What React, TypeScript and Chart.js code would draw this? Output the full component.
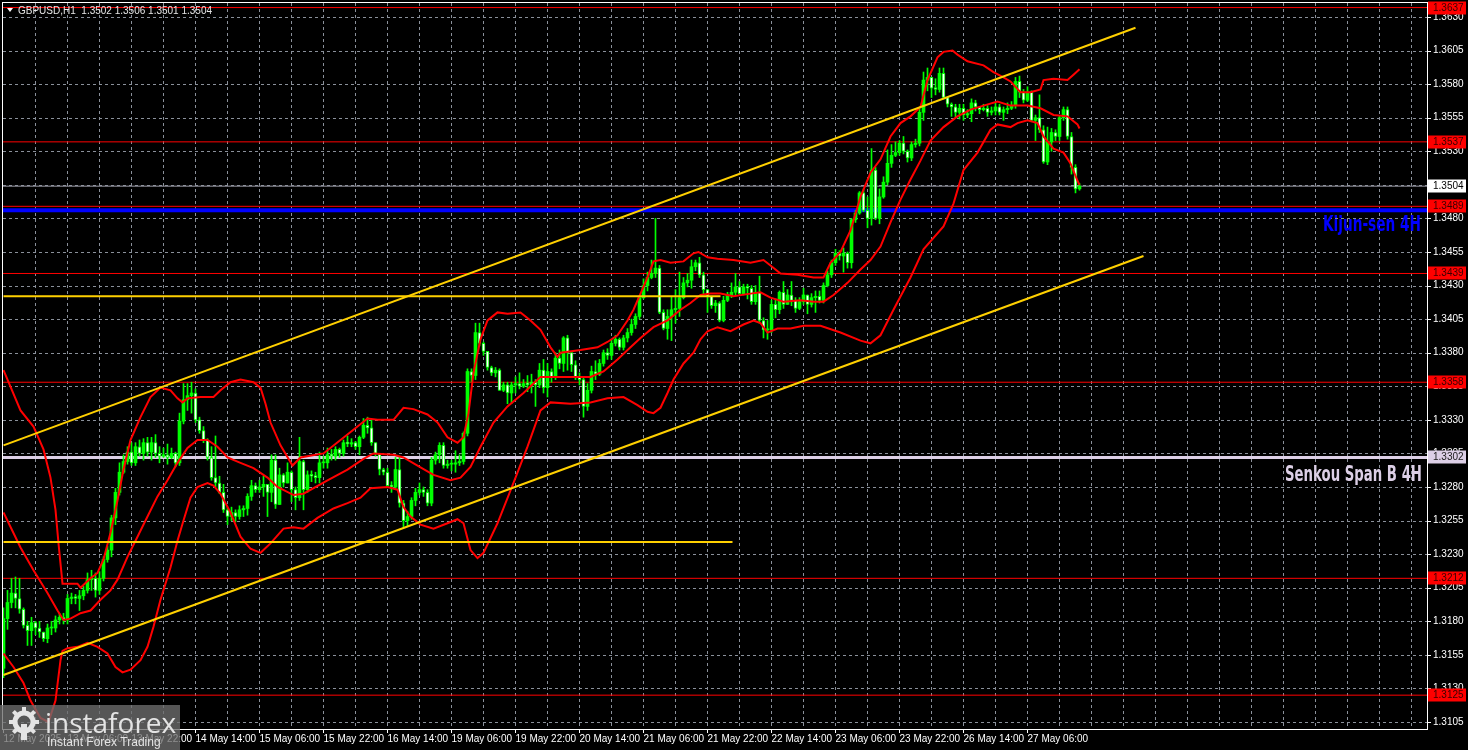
import { useEffect, useRef } from 'react';
import { Chart, registerables } from 'chart.js';

Chart.register(...registerables);

// ---------- data ----------
const FIRST_OPEN = 1.3145;

const closes = [
  1.3182,1.3194,1.3201,1.3197,1.3189,1.3177,1.3173,1.3179,1.3175,1.3172,
  1.3167,1.3175,1.3175,1.3181,1.3183,1.3181,1.3197,1.3198,1.3197,1.3199,
  1.3203,1.3211,1.3212,1.3203,1.3212,1.3226,1.3233,1.3257,1.3276,1.3291,
  1.3299,1.3306,1.3298,1.3310,1.3305,1.3313,1.3306,1.3313,1.3305,1.3303,
  1.3304,1.3302,1.3305,1.3298,1.3329,1.3345,1.3348,1.3350,1.3330,1.3322,
  1.3315,1.3302,1.3287,1.3283,1.3276,1.3263,1.3258,1.3261,1.3258,1.3263,
  1.3264,1.3273,1.3281,1.3278,1.3280,1.3282,1.3276,1.3300,1.3267,1.3289,
  1.3283,1.3291,1.3278,1.3272,1.3299,1.3278,1.3289,1.3288,1.3287,1.3298,
  1.3298,1.3304,1.3303,1.3308,1.3305,1.3313,1.3312,1.3313,1.3310,1.3317,
  1.3326,1.3324,1.3313,1.3305,1.3293,1.3291,1.3281,1.3280,1.3293,1.3268,
  1.3255,1.3258,1.3270,1.3276,1.3278,1.3276,1.3268,1.3300,1.3304,1.3311,
  1.3296,1.3297,1.3297,1.3298,1.3299,1.3320,1.3366,1.3363,1.3395,1.3387,
  1.3381,1.3369,1.3365,1.3367,1.3352,1.3356,1.3350,1.3356,1.3357,1.3355,
  1.3357,1.3356,1.3358,1.3356,1.3367,1.3354,1.3366,1.3362,1.3376,1.3372,
  1.3391,1.3380,1.3371,1.3362,1.3360,1.3340,1.3352,1.3366,1.3364,1.3372,
  1.3380,1.3378,1.3387,1.3390,1.3384,1.3391,1.3395,1.3401,1.3407,1.3421,
  1.3430,1.3436,1.3439,1.3443,1.3410,1.3398,1.3407,1.3412,1.3413,1.3421,
  1.3432,1.3434,1.3444,1.3447,1.3438,1.3427,1.3422,1.3415,1.3417,1.3404,
  1.3419,1.3423,1.3425,1.3429,1.3424,1.3429,1.3428,1.3418,1.3425,1.3404,
  1.3397,1.3397,1.3416,1.3412,1.3425,1.3416,1.3423,1.3419,1.3413,1.3418,
  1.3423,1.3416,1.3421,1.3422,1.3419,1.3430,1.3438,1.3447,1.3454,1.3452,
  1.3454,1.3447,1.3479,1.3484,1.3499,1.3486,1.3480,1.3516,1.3480,1.3496,
  1.3507,1.3521,1.3527,1.3529,1.3536,1.3530,1.3525,1.3535,1.3536,1.3559,
  1.3583,1.3585,1.3577,1.3576,1.3588,1.3570,1.3565,1.3563,1.3559,1.3562,
  1.3557,1.3558,1.3566,1.3563,1.3561,1.3562,1.3559,1.3560,1.3563,1.3559,
  1.3561,1.3562,1.3564,1.3582,1.3574,1.3568,1.3574,1.3553,1.3555,1.3546,
  1.3522,1.3537,1.3544,1.3541,1.3555,1.3561,1.3541,1.3518,1.3502,1.3504,
];

const highs = [
  1.3190,1.3203,1.3212,1.3213,1.3212,1.3190,1.3180,1.3183,1.3180,1.3180,
  1.3172,1.3178,1.3180,1.3184,1.3186,1.3186,1.3200,1.3201,1.3200,1.3203,
  1.3206,1.3216,1.3218,1.3216,1.3217,1.3228,1.3236,1.3259,1.3279,1.3298,
  1.3304,1.3310,1.3313,1.3313,1.3315,1.3316,1.3317,1.3317,1.3319,1.3310,
  1.3309,1.3312,1.3309,1.3306,1.3335,1.3357,1.3357,1.3358,1.3353,1.3332,
  1.3325,1.3316,1.3310,1.3318,1.3288,1.3282,1.3265,1.3265,1.3263,1.3266,
  1.3266,1.3275,1.3285,1.3283,1.3285,1.3288,1.3278,1.3304,1.3304,1.3294,
  1.3290,1.3298,1.3292,1.3280,1.3317,1.3300,1.3292,1.3292,1.3291,1.3306,
  1.3303,1.3309,1.3308,1.3310,1.3309,1.3315,1.3318,1.3316,1.3314,1.3318,
  1.3331,1.3332,1.3330,1.3313,1.3304,1.3294,1.3294,1.3284,1.3302,1.3302,
  1.3270,1.3262,1.3272,1.3279,1.3283,1.3280,1.3278,1.3302,1.3306,1.3313,
  1.3313,1.3300,1.3300,1.3307,1.3304,1.3321,1.3368,1.3368,1.3402,1.3402,
  1.3388,1.3381,1.3370,1.3369,1.3368,1.3358,1.3358,1.3358,1.3362,1.3365,
  1.3360,1.3363,1.3364,1.3360,1.3372,1.3375,1.3372,1.3368,1.3380,1.3382,
  1.3392,1.3393,1.3374,1.3374,1.3365,1.3361,1.3357,1.3370,1.3374,1.3375,
  1.3382,1.3383,1.3390,1.3393,1.3391,1.3393,1.3398,1.3405,1.3409,1.3422,
  1.3435,1.3440,1.3449,1.3480,1.3445,1.3412,1.3412,1.3422,1.3427,1.3440,
  1.3436,1.3439,1.3449,1.3449,1.3451,1.3440,1.3426,1.3420,1.3419,1.3418,
  1.3422,1.3425,1.3432,1.3439,1.3433,1.3431,1.3431,1.3430,1.3430,1.3437,
  1.3406,1.3404,1.3419,1.3420,1.3426,1.3433,1.3427,1.3433,1.3421,1.3421,
  1.3428,1.3420,1.3424,1.3426,1.3426,1.3432,1.3441,1.3449,1.3457,1.3456,
  1.3458,1.3455,1.3480,1.3486,1.3500,1.3502,1.3496,1.3532,1.3518,1.3502,
  1.3511,1.3531,1.3535,1.3537,1.3538,1.3541,1.3531,1.3537,1.3539,1.3562,
  1.3589,1.3592,1.3583,1.3584,1.3592,1.3592,1.3570,1.3566,1.3565,1.3565,
  1.3565,1.3561,1.3569,1.3568,1.3563,1.3565,1.3564,1.3563,1.3566,1.3565,
  1.3563,1.3566,1.3567,1.3585,1.3586,1.3576,1.3578,1.3575,1.3557,1.3572,
  1.3549,1.3548,1.3547,1.3546,1.3556,1.3563,1.3563,1.3544,1.3520,1.3506,
];

const lows = [
  1.3138,1.3174,1.3190,1.3190,1.3186,1.3175,1.3162,1.3162,1.3170,1.3168,
  1.3165,1.3164,1.3170,1.3172,1.3178,1.3178,1.3178,1.3193,1.3193,1.3188,
  1.3196,1.3201,1.3203,1.3198,1.3200,1.3210,1.3224,1.3228,1.3252,1.3274,
  1.3290,1.3297,1.3296,1.3296,1.3303,1.3300,1.3303,1.3300,1.3302,1.3298,
  1.3302,1.3297,1.3301,1.3295,1.3296,1.3327,1.3337,1.3335,1.3328,1.3320,
  1.3313,1.3300,1.3285,1.3280,1.3275,1.3261,1.3252,1.3255,1.3254,1.3256,
  1.3258,1.3259,1.3270,1.3276,1.3276,1.3273,1.3258,1.3269,1.3264,1.3278,
  1.3280,1.3283,1.3269,1.3263,1.3270,1.3263,1.3276,1.3284,1.3283,1.3283,
  1.3294,1.3294,1.3300,1.3300,1.3302,1.3303,1.3310,1.3310,1.3308,1.3304,
  1.3316,1.3320,1.3311,1.3303,1.3289,1.3289,1.3280,1.3276,1.3279,1.3265,
  1.3250,1.3251,1.3256,1.3266,1.3274,1.3273,1.3266,1.3266,1.3297,1.3298,
  1.3294,1.3294,1.3292,1.3291,1.3296,1.3297,1.3318,1.3358,1.3360,1.3385,
  1.3378,1.3367,1.3363,1.3362,1.3352,1.3351,1.3342,1.3342,1.3350,1.3353,
  1.3354,1.3351,1.3350,1.3340,1.3354,1.3350,1.3347,1.3358,1.3360,1.3368,
  1.3366,1.3367,1.3366,1.3360,1.3356,1.3332,1.3337,1.3350,1.3360,1.3363,
  1.3370,1.3375,1.3375,1.3385,1.3382,1.3382,1.3388,1.3393,1.3398,1.3405,
  1.3420,1.3426,1.3435,1.3436,1.3409,1.3397,1.3390,1.3389,1.3402,1.3407,
  1.3420,1.3429,1.3428,1.3441,1.3436,1.3424,1.3410,1.3413,1.3410,1.3403,
  1.3403,1.3418,1.3421,1.3423,1.3423,1.3423,1.3420,1.3416,1.3416,1.3402,
  1.3391,1.3390,1.3395,1.3406,1.3409,1.3413,1.3416,1.3415,1.3410,1.3412,
  1.3416,1.3409,1.3414,1.3410,1.3417,1.3417,1.3429,1.3436,1.3445,1.3449,
  1.3440,1.3443,1.3443,1.3477,1.3483,1.3485,1.3473,1.3475,1.3479,1.3476,
  1.3495,1.3505,1.3518,1.3526,1.3527,1.3528,1.3522,1.3523,1.3533,1.3534,
  1.3553,1.3575,1.3570,1.3572,1.3574,1.3569,1.3563,1.3556,1.3555,1.3554,
  1.3553,1.3555,1.3552,1.3560,1.3558,1.3560,1.3556,1.3557,1.3557,1.3557,
  1.3553,1.3558,1.3561,1.3562,1.3570,1.3566,1.3567,1.3552,1.3538,1.3544,
  1.3521,1.3520,1.3530,1.3538,1.3538,1.3553,1.3539,1.3513,1.3499,1.3501,
];

// Bollinger-style red band lines: [bar index, price]
const bandUpper = [
  [0,1.3367],[4.25,1.3337],[7.5,1.3325],[10,1.3308],[11.75,1.3287],[13,1.3263],[13.75,1.3238],[14.75,1.3208],
  [18.5,1.3208],[19.25,1.3205],[21.75,1.3212],[23.5,1.3216],[25,1.3226],[26.75,1.3246],[28.5,1.3270],[30,1.3293],
  [31.75,1.3315],[34.25,1.3332],[36.75,1.3347],[39.25,1.3354],[41.75,1.3352],[43.5,1.3346],[44.75,1.3343],[46,1.3346],
  [49.25,1.3347],[52.5,1.3347],[54.25,1.3352],[56.75,1.3358],[59.25,1.3360],[62.5,1.3358],[64.25,1.3354],[65.5,1.3342],
  [66.75,1.3328],[69.25,1.3311],[72.25,1.3296],[74.25,1.3302],[80,1.3305],[84.25,1.3315],[88.5,1.3325],[91,1.3331],
  [93.5,1.3330],[97.5,1.3330],[100,1.3339],[102.5,1.3338],[106,1.3334],[108.5,1.3328],[111,1.3317],[113.5,1.3313],
  [115,1.3317],[116.25,1.3335],[117.5,1.3365],[119.25,1.3390],[121,1.3404],[123.5,1.3410],[126,1.3409],[129.25,1.3410],
  [131.75,1.3404],[134.25,1.3397],[136.75,1.3384],[138.5,1.3377],[139.25,1.3380],[144.25,1.3382],[148.5,1.3384],[151,1.3388],
  [153.5,1.3393],[156,1.3404],[157.5,1.3412],[159.25,1.3424],[161,1.3436],[162.5,1.3448],[164.25,1.3449],[166.75,1.3447],
  [170,1.3448],[172.5,1.3454],[173.75,1.3455],[176,1.3451],[178.5,1.3450],[182.5,1.3449],[186.75,1.3447],[190,1.3449],
  [191.75,1.3445],[194.25,1.3439],[198.5,1.3438],[202.5,1.3436],[205,1.3436],[206.75,1.3447],[209.25,1.3455],[211.75,1.3471],
  [214.25,1.3496],[216.75,1.3514],[219.25,1.3524],[221.75,1.3541],[224.25,1.3551],[226.75,1.3556],[229.25,1.3563],[231,1.3583],
  [233.5,1.3600],[235,1.3604],[237.25,1.3605],[238.5,1.3602],[241,1.3597],[245,1.3594],[247.5,1.3589],[250,1.3585],
  [251.75,1.3582],[254.25,1.3574],[256.75,1.3574],[259.25,1.3576],[260,1.3583],[262.5,1.3584],[266,1.3583],[267.5,1.3587],[269,1.3591],
];

const bandMiddle = [
  [0,1.3261],[4.25,1.3235],[7.5,1.3218],[11,1.3201],[13.5,1.3188],[15,1.3181],[16.75,1.3182],[19.25,1.3186],
  [21.75,1.3188],[24.25,1.3196],[26.75,1.3203],[28.5,1.3211],[31,1.3228],[33.5,1.3243],[36,1.3258],[38.5,1.3273],
  [41,1.3285],[43.5,1.3298],[46,1.3309],[48.5,1.3315],[51,1.3315],[53.5,1.3310],[56,1.3302],[59.25,1.3298],
  [62.5,1.3294],[66,1.3287],[68.5,1.3280],[72.5,1.3274],[75,1.3275],[81,1.3285],[86,1.3293],[90,1.3301],
  [92.5,1.3305],[97.5,1.3304],[100,1.3302],[103.5,1.3296],[107.5,1.3289],[111.75,1.3285],[114.25,1.3287],[116.75,1.3295],
  [119.25,1.3310],[122.5,1.3328],[126,1.3340],[130,1.3350],[134.25,1.3362],[137.5,1.3362],[141.75,1.3362],[146.75,1.3362],
  [150,1.3366],[153.5,1.3375],[156.75,1.3384],[159.25,1.3391],[162.5,1.3399],[166,1.3404],[169.25,1.3412],[171.75,1.3417],
  [174.25,1.3423],[176.75,1.3424],[179.25,1.3424],[182.5,1.3422],[186.75,1.3424],[189.25,1.3425],[191.75,1.3421],[195,1.3418],
  [199.25,1.3419],[202.5,1.3418],[205,1.3418],[207.5,1.3423],[211,1.3432],[214.25,1.3442],[216.75,1.3449],[219.25,1.3459],
  [221.75,1.3477],[224.25,1.3494],[226.75,1.3509],[229.25,1.3523],[231.75,1.3538],[235,1.3548],[238.5,1.3556],[241.75,1.3561],
  [245,1.3564],[248.5,1.3567],[251.75,1.3564],[256,1.3564],[259.25,1.3562],[262.5,1.3557],[266,1.3556],[268.5,1.3550],[269,1.3547],
];

const bandLower = [
  [0,1.3156],[2.5,1.3146],[5,1.3134],[6.75,1.3121],[9.25,1.3108],[11.25,1.3105],[13,1.3121],[14.25,1.3151],
  [14.75,1.3158],[16,1.3160],[18.5,1.3161],[21,1.3164],[23.5,1.3161],[26,1.3156],[28,1.3146],[29.75,1.3142],
  [31.75,1.3144],[34.25,1.3151],[36,1.3161],[37.5,1.3176],[39.25,1.3196],[41.75,1.3220],[43.5,1.3240],[45,1.3255],
  [46.75,1.3272],[48.5,1.3280],[51,1.3283],[52.5,1.3281],[54.25,1.3275],[56.75,1.3261],[59.25,1.3243],[61.75,1.3234],
  [64.25,1.3231],[66.75,1.3238],[70,1.3249],[72.5,1.3250],[75,1.3249],[78.5,1.3257],[82.5,1.3264],[86,1.3268],
  [89.25,1.3272],[91.75,1.3279],[96,1.3280],[98.5,1.3278],[100,1.3265],[101.75,1.3258],[104.25,1.3252],[107.5,1.3249],
  [111,1.3253],[113.5,1.3256],[115,1.3253],[116.75,1.3233],[118.5,1.3227],[120,1.3231],[123.5,1.3253],[127.5,1.3283],
  [131,1.3310],[134.25,1.3337],[136.75,1.3343],[141.75,1.3342],[146.75,1.3343],[151,1.3346],[155,1.3347],[158.5,1.3341],
  [161,1.3336],[162.5,1.3335],[164.25,1.3339],[166,1.3350],[167.5,1.3360],[170,1.3372],[172.5,1.3380],[174.25,1.3390],
  [176,1.3396],[178.5,1.3399],[181.75,1.3396],[185,1.3401],[187.5,1.3404],[189.25,1.3402],[191,1.3395],[193.5,1.3398],
  [196.75,1.3398],[200,1.3400],[204.25,1.3400],[209.25,1.3395],[214.25,1.3389],[216.75,1.3387],[219.25,1.3393],[222.5,1.3412],
  [226.75,1.3436],[230,1.3457],[235,1.3474],[237.5,1.3491],[240,1.3516],[243.5,1.3529],[246.75,1.3546],[248.5,1.3550],
  [251.75,1.3548],[253.5,1.3551],[256,1.3553],[258.5,1.3551],[260,1.3541],[262.5,1.3532],[265,1.3529],[266.75,1.3521],
  [268.5,1.3508],[269,1.3505],
];

// horizontal levels
const redLevels = [1.3637, 1.3537, 1.3489, 1.3439, 1.3358, 1.3212, 1.3125];
const kijunLevel = 1.3486;
const kijunTag = 1.3489;
const senkouBLevel = 1.3302;
const bidLevel = 1.3504;

// yellow channel and yellow segments: [bar index, price]
const channelUpper = [[0, 1.3311], [283, 1.3622]];
const channelLower = [[0, 1.3140], [285, 1.3452]];
const yellowUpperSeg = [[0, 1.3422], [179.25, 1.3422]];
const yellowLowerSeg = [[0, 1.3239], [182.25, 1.3239]];

// axis ticks
const yTicks = [1.3105,1.3130,1.3155,1.3180,1.3205,1.3230,1.3255,1.3280,1.3305,1.3330,1.3355,1.3380,1.3405,1.3430,1.3455,1.3480,1.3505,1.3530,1.3555,1.3580,1.3605,1.3630];
const timeLabels = ['12 May 2025','13 May 06:00','13 May 22:00','14 May 14:00','15 May 06:00','15 May 22:00','16 May 14:00','19 May 06:00','19 May 22:00','20 May 14:00','21 May 06:00','21 May 22:00','22 May 14:00','23 May 06:00','23 May 22:00','26 May 14:00','27 May 06:00'];
const LABEL_STEP = 16;
const GRID_STEP = 8;
const titleText = 'GBPUSD,H1  1.3502 1.3506 1.3501 1.3504';

// ---------- layout constants ----------
const W = 1468;
const H = 750;
const X_MIN = -0.125;
const X_MAX = 355.875;
const Y_MIN = 1.30998;
const Y_MAX = 1.36404;
const FONT = '"Liberation Sans", Arial, sans-serif';
const NARROW = '"Liberation Sans Narrow", "Arial Narrow", "DejaVu Sans Condensed", sans-serif';
const GRID = '#8a909a';
const LIME = '#00ff00';

const toPts = (arr: number[][]) => arr.map(([x, y]) => ({ x, y }));

export default function App() {
  const ref = useRef<HTMLCanvasElement | null>(null);

  useEffect(() => {
    document.body.style.margin = '0';
    document.body.style.background = '#000';
    const canvas = ref.current;
    if (!canvas) return;

    const wicks: any[] = [];
    const bulls: any[] = [];
    const bears: any[] = [];
    for (let i = 0; i < closes.length; i++) {
      const o = i === 0 ? FIRST_OPEN : closes[i - 1];
      const c = closes[i];
      const hi = Math.max(highs[i], o, c);
      const lo = Math.min(lows[i], o, c);
      wicks.push({ x: i, y: [lo, hi] });
      if (c >= o) bulls.push({ x: i, y: [o, c] });
      else bears.push({ x: i, y: [c, o] });
    }

    const line = (pts: number[][], color: string, width: number, order: number) => ({
      type: 'line' as const,
      data: toPts(pts),
      borderColor: color,
      borderWidth: width,
      pointRadius: 0,
      pointHoverRadius: 0,
      fill: false,
      tension: 0,
      order,
    });

    const datasets: any[] = [];
    redLevels.forEach((v) => datasets.push(line([[X_MIN, v], [X_MAX, v]], '#ff0000', 1, 20)));
    datasets.push(line([[X_MIN, bidLevel], [X_MAX, bidLevel]], '#9a9aa6', 1, 21));
    datasets.push(line([[X_MIN, kijunLevel], [X_MAX, kijunLevel]], '#0000ff', 4, 22));
    datasets.push(line([[X_MIN, senkouBLevel], [X_MAX, senkouBLevel]], '#dccfe6', 3, 21));
    datasets.push({
      type: 'bar', data: wicks, backgroundColor: LIME, borderWidth: 0, barThickness: 1,
      grouped: false, order: 12, minBarLength: 1,
    });
    datasets.push({
      type: 'bar', data: bulls, backgroundColor: LIME, borderWidth: 0, barThickness: 3,
      grouped: false, order: 11, minBarLength: 1,
    });
    datasets.push({
      type: 'bar', data: bears, backgroundColor: '#ffffff', borderColor: LIME, borderWidth: 1,
      borderSkipped: false, barThickness: 3, grouped: false, order: 10, minBarLength: 2,
    });
    datasets.push(line(bandUpper, '#ff0000', 2, 5));
    datasets.push(line(bandMiddle, '#ff0000', 2, 5));
    datasets.push(line(bandLower, '#ff0000', 2, 5));
    datasets.push(line(channelUpper, '#ffd000', 2, 3));
    datasets.push(line(channelLower, '#ffd000', 2, 3));
    datasets.push(line(yellowUpperSeg, '#ffd000', 2, 3));
    datasets.push(line(yellowLowerSeg, '#ffd000', 2, 3));

    const fitText = (c: CanvasRenderingContext2D, text: string, right: number, y: number, width: number) => {
      const w = c.measureText(text).width;
      c.save();
      c.translate(right, y);
      c.scale(width / w, 1);
      c.textAlign = 'right';
      c.fillText(text, 0, 0);
      c.restore();
    };

    const decor = {
      id: 'mt4decor',
      beforeDraw(chart: any) {
        const c = chart.ctx;
        c.save();
        c.fillStyle = '#000';
        c.fillRect(0, 0, chart.width, chart.height);
        c.restore();
      },
      beforeDatasetsDraw(chart: any) {
        const c = chart.ctx;
        const a = chart.chartArea;
        const xs = chart.scales.x;
        const ys = chart.scales.y;
        c.save();
        c.beginPath();
        c.rect(a.left, a.top, a.right - a.left, a.bottom - a.top);
        c.clip();
        c.strokeStyle = GRID;
        c.lineWidth = 1;
        c.setLineDash([3, 3]);
        c.beginPath();
        for (let i = GRID_STEP; i < X_MAX; i += GRID_STEP) {
          const px = Math.floor(xs.getPixelForValue(i)) + 0.5;
          c.moveTo(px, a.top);
          c.lineTo(px, a.bottom);
        }
        yTicks.forEach((v) => {
          const py = Math.round(ys.getPixelForValue(v)) + 0.5;
          c.moveTo(a.left, py);
          c.lineTo(a.right, py);
        });
        c.stroke();
        c.restore();
      },
      afterDraw(chart: any) {
        const c = chart.ctx;
        const a = chart.chartArea;
        const xs = chart.scales.x;
        const ys = chart.scales.y;
        c.save();
        // frame
        c.strokeStyle = '#ffffff';
        c.lineWidth = 1;
        c.strokeRect(2.5, 2.5, a.right - 2, a.bottom - 2);
        // tick marks
        c.beginPath();
        timeLabels.forEach((_, k) => {
          const px = Math.floor(xs.getPixelForValue(k * LABEL_STEP)) + 0.5;
          c.moveTo(px, a.bottom);
          c.lineTo(px, a.bottom + 4);
        });
        yTicks.forEach((v) => {
          const py = Math.round(ys.getPixelForValue(v)) + 0.5;
          c.moveTo(a.right, py);
          c.lineTo(a.right + 4, py);
        });
        c.stroke();

        // price tags
        const tag = (v: number, bg: string, fg: string) => {
          const py = ys.getPixelForValue(v);
          c.fillStyle = bg;
          c.fillRect(a.right + 1, Math.round(py) - 6.5, 38, 13);
          c.fillStyle = fg;
          c.font = `10px ${FONT}`;
          c.textAlign = 'left';
          c.textBaseline = 'middle';
          c.fillText(v.toFixed(4), a.right + 6, Math.round(py) + 0.5);
        };
        redLevels.forEach((v) => { if (v !== kijunTag) tag(v, '#ff0000', '#3a0000'); });
        tag(bidLevel, '#ffffff', '#000000');
        tag(kijunTag, '#ff0000', '#3a0000');
        tag(senkouBLevel, '#dccfe6', '#202020');

        // title
        c.fillStyle = '#ffffff';
        c.beginPath();
        c.moveTo(7, 8);
        c.lineTo(13, 8);
        c.lineTo(10, 12);
        c.closePath();
        c.fill();
        c.fillStyle = '#e6e6e6';
        c.font = `10px ${FONT}`;
        c.textAlign = 'left';
        c.textBaseline = 'middle';
        c.fillText(titleText, 18, 11);

        // object labels (condensed bold)
        c.font = `bold 21px ${NARROW}`;
        c.textBaseline = 'middle';
        c.fillStyle = '#0000ff';
        fitText(c, 'Kijun-sen 4H', 1421, 226, 98);
        c.fillStyle = '#dccfe6';
        fitText(c, 'Senkou Span B 4H', 1422, 476, 137);

        // watermark
        c.fillStyle = 'rgba(110,110,110,0.78)';
        c.fillRect(0, 705, 180, 45);
        c.strokeStyle = '#e4e4e4';
        c.lineWidth = 5;
        c.beginPath();
        c.arc(24, 722, 9, 0, Math.PI * 2);
        c.stroke();
        c.lineWidth = 4;
        for (let k = 0; k < 8; k++) {
          const ang = (k * Math.PI) / 4;
          c.beginPath();
          c.moveTo(24 + Math.cos(ang) * 10, 722 + Math.sin(ang) * 10);
          c.lineTo(24 + Math.cos(ang) * 15, 722 + Math.sin(ang) * 15);
          c.stroke();
        }
        c.fillStyle = '#e4e4e4';
        c.fillRect(21, 724, 6, 16);
        c.textAlign = 'left';
        c.textBaseline = 'alphabetic';
        c.font = `32px ${'"Open Sans", Lato, sans-serif'}`;
        const m = c.measureText('instaforex').width;
        const fs = Math.max(10, Math.round(32 * 130 / m));
        c.font = `${fs}px ${'"Open Sans", Lato, sans-serif'}`;
        c.fillText('instaforex', 45, 733);
        c.font = `12px ${FONT}`;
        c.fillText('Instant Forex Trading', 47, 746);
        c.restore();
      },
    };

    const chart = new Chart(canvas, {
      type: 'bar',
      data: { datasets },
      options: {
        animation: false,
        responsive: false,
        maintainAspectRatio: false,
        devicePixelRatio: 1,
        events: [],
        layout: { padding: { left: 3, top: 3, right: 0, bottom: 0 } },
        plugins: { legend: { display: false }, tooltip: { enabled: false } },
        scales: {
          x: {
            type: 'linear',
            min: X_MIN,
            max: X_MAX,
            offset: false,
            grid: { display: false, drawTicks: false },
            border: { display: false },
            ticks: {
              autoSkip: false,
              maxRotation: 0,
              align: 'start',
              padding: 4,
              color: '#ffffff',
              font: { family: FONT, size: 10 },
              callback: (v: any) => timeLabels[Math.round(Number(v) / LABEL_STEP)] ?? '',
            },
            afterBuildTicks: (s: any) => {
              s.ticks = timeLabels.map((_, k) => ({ value: k * LABEL_STEP }));
            },
            afterFit: (s: any) => {
              s.height = H - 729;
              s.paddingLeft = 0;
              s.paddingRight = 0;
            },
          },
          y: {
            type: 'linear',
            position: 'right',
            min: Y_MIN,
            max: Y_MAX,
            beginAtZero: false,
            grid: { display: false, drawTicks: false },
            border: { display: false },
            ticks: {
              autoSkip: false,
              padding: 6,
              color: '#ffffff',
              font: { family: FONT, size: 10 },
              callback: (v: any) => Number(v).toFixed(4),
            },
            afterBuildTicks: (s: any) => {
              s.ticks = yTicks.map((v) => ({ value: v }));
            },
            afterFit: (s: any) => {
              s.width = W - 1427;
              s.paddingTop = 0;
              s.paddingBottom = 0;
            },
          },
        },
      } as any,
      plugins: [decor],
    });

    return () => chart.destroy();
  }, []);

  return <canvas ref={ref} width={W} height={H} style={{ display: 'block', width: W, height: H }} />;
}
